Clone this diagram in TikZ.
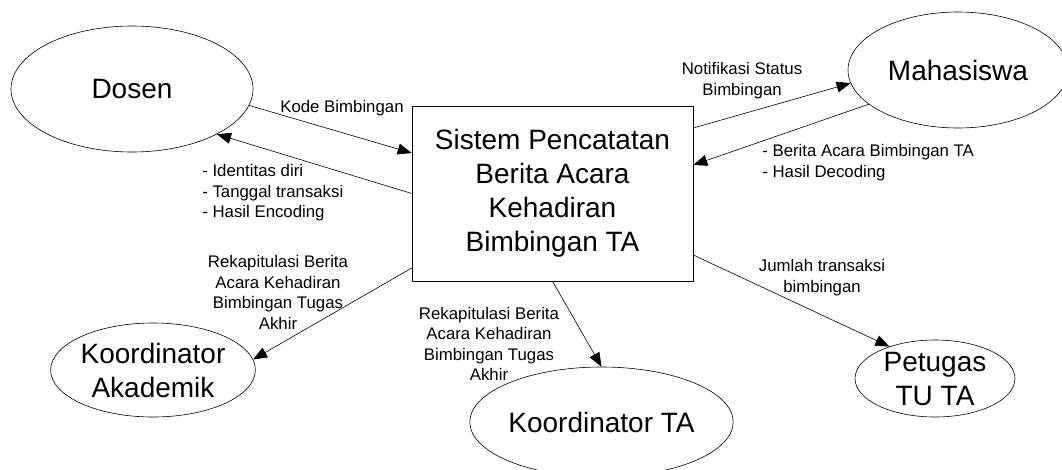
\documentclass[tikz,border=0pt]{standalone}
\usepackage{fontspec}
\setmainfont{Liberation Sans}
\usetikzlibrary{shapes,arrows.meta}
\newcommand{\nodefont}{\fontsize{28}{34}\selectfont}
\newcommand{\flowfont}{\fontsize{16.8}{20.5}\selectfont}
\tikzstyle{process} = [draw, rectangle, minimum width=281pt, minimum height=175pt,
    inner sep=0pt, font=\nodefont, align=center]
\tikzstyle{entity} = [draw, ellipse, inner sep=0pt, font=\nodefont, align=center]
\tikzstyle{flow} = [font=\flowfont, align=center, inner sep=0pt]

\begin{document}
\begin{tikzpicture}[x=1pt, y=-1pt, >={Triangle[length=14pt,width=11pt]}, line width=0.6pt]
      \useasboundingbox (0,0) rectangle (1062,469);
      % the process in the middle
      \node[process] at (552.5,193.5) (sys) {Sistem Pencatatan\\Berita Acara\\Kehadiran\\Bimbingan TA};

      % external entities round it
      \node[entity, minimum width=242pt, minimum height=126pt] at (132,89) (dosen) {Dosen};
      \node[entity, minimum width=220pt, minimum height=116pt] at (958,70) (mhs) {Mahasiswa};
      \node[entity, minimum width=196pt, minimum height=94pt] at (153,370) (akad) {Koordinator\\Akademik};
      \node[entity, minimum width=210pt, minimum height=110pt] at (601.5,422) (kta) {Koordinator TA};
      \node[entity, minimum width=160pt, minimum height=77pt] at (935,378.5) (ptg) {Petugas\\TU TA};

      % data flows
      \draw[->] (dosen.-8) -- ([yshift=40.5pt]sys.west);
      \draw[->] (sys.west) -- (dosen.-28);
      \draw[->] ([yshift=65.5pt]sys.east) -- (mhs.187);
      \draw[->] (mhs.201) -- ([yshift=28.5pt]sys.east);
      \draw[->] ([yshift=-74.5pt]sys.west) -- (akad.6);
      \draw[->] (sys.south) -- (kta.north);
      \draw[->] ([yshift=-61.5pt]sys.east) -- (ptg.145);

      % labels of the flows
      \node[flow, anchor=base] at (342,112) (kode) {Kode Bimbingan};
      \node[flow, align=left, anchor=west] at (202,193) (identitas) {- Identitas diri\\- Tanggal transaksi\\- Hasil Encoding};
      \node[flow] at (742,80.7) (notif) {Notifikasi Status\\Bimbingan};
      \node[flow, align=left, anchor=west] at (762,162.7) (berita) {- Berita Acara Bimbingan TA\\- Hasil Decoding};
      \node[flow] at (278,292.4) (rekap_akad) {Rekapitulasi Berita\\Acara Kehadiran\\Bimbingan Tugas\\Akhir};
      \node[flow] at (489,344) (rekap_kta) {Rekapitulasi Berita\\Acara Kehadiran\\Bimbingan Tugas\\Akhir};
      \node[flow] at (822,277.7) (jumlah) {Jumlah transaksi\\bimbingan};
\end{tikzpicture}
\end{document}
